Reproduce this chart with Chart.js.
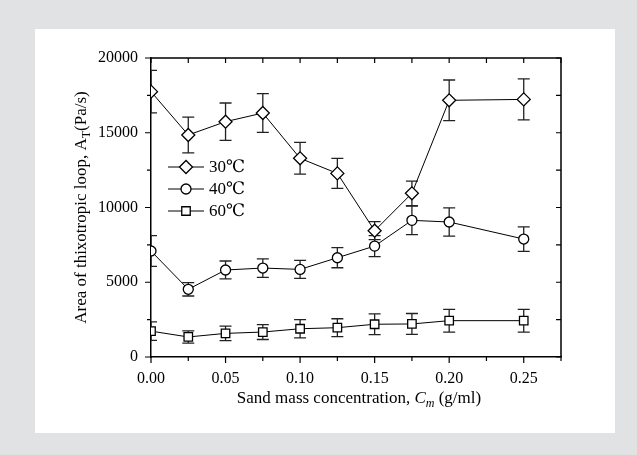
<!DOCTYPE html>
<html>
<head>
<meta charset="utf-8">
<script src="https://cdn.jsdelivr.net/npm/chart.js@4.4.0/dist/chart.umd.min.js"></script>
<style>
html, body { margin: 0; padding: 0; background: #e1e2e4; }
#panel { position: absolute; left: 35px; top: 29px; width: 580px; height: 404px; background: #fff; }
#wrap { position: absolute; left: 0; top: 0; width: 637px; height: 455px; }
</style>
</head>
<body>
<div id="panel"></div>
<div id="wrap"><canvas id="chart" width="637" height="455"></canvas></div>
<script>
// sand mass concentration (g/ml)
const conc = [0, 0.025, 0.05, 0.075, 0.1, 0.125, 0.15, 0.175, 0.2, 0.25];
const labels = ['30℃', '40℃', '60℃'];

// area of thixotropic loop (Pa/s) and error bar half-widths
const area30 = [17750, 14850, 15740, 16320, 13290, 12280, 8450, 10950, 17170, 17230];
const err30 = [1420, 1200, 1250, 1300, 1060, 1000, 600, 820, 1360, 1370];
const area40 = [7090, 4530, 5820, 5950, 5860, 6640, 7420, 9140, 9030, 7890];
const err40 = [1030, 450, 600, 620, 600, 670, 700, 950, 940, 820];
const area60 = [1730, 1340, 1580, 1670, 1890, 1960, 2190, 2210, 2430, 2430];
const err60 = [620, 410, 490, 500, 610, 600, 700, 700, 760, 760];

const xTicks = [0, 0.025, 0.05, 0.075, 0.1, 0.125, 0.15, 0.175, 0.2, 0.225, 0.25, 0.275];
const yTicks = [0, 2500, 5000, 7500, 10000, 12500, 15000, 17500, 20000];

const serif = "'Liberation Serif', 'DejaVu Serif', serif";
const errs = [err30, err40, err60];

function pts(ys) {
  return conc.map((c, i) => ({ x: c, y: ys[i] }));
}

const errorBars = {
  id: 'errorBars',
  beforeDatasetsDraw(chart) {
    const ctx = chart.ctx, a = chart.chartArea;
    const xs = chart.scales.x, ys = chart.scales.y;
    ctx.save();
    ctx.beginPath();
    ctx.rect(a.left, a.top, a.right - a.left, a.bottom - a.top);
    ctx.clip();
    ctx.strokeStyle = '#222';
    ctx.lineWidth = 1.3;
    chart.data.datasets.forEach((ds, k) => {
      ds.data.forEach((p, i) => {
        const x = xs.getPixelForValue(p.x);
        const t = ys.getPixelForValue(p.y + errs[k][i]);
        const b = ys.getPixelForValue(p.y - errs[k][i]);
        ctx.beginPath();
        ctx.moveTo(x, t); ctx.lineTo(x, b);
        ctx.moveTo(x - 6, t); ctx.lineTo(x + 6, t);
        ctx.moveTo(x - 6, b); ctx.lineTo(x + 6, b);
        ctx.stroke();
      });
    });
    ctx.restore();
  }
};

const frame = {
  id: 'frame',
  afterDraw(chart) {
    const ctx = chart.ctx, a = chart.chartArea;
    const xs = chart.scales.x, ys = chart.scales.y;
    ctx.save();
    ctx.strokeStyle = '#000';
    ctx.lineWidth = 1.5;
    ctx.beginPath();
    ctx.moveTo(a.left, a.top); ctx.lineTo(a.right, a.top); ctx.lineTo(a.right, a.bottom);
    ctx.stroke();
    ctx.lineWidth = 1.2;
    ctx.beginPath();
    xTicks.forEach((v, i) => {
      const x = xs.getPixelForValue(v);
      const len = i % 2 === 0 ? 6 : 4;
      ctx.moveTo(x, a.bottom); ctx.lineTo(x, a.bottom + len);
      ctx.moveTo(x, a.top); ctx.lineTo(x, a.top + 5);
    });
    yTicks.forEach((v, i) => {
      const y = ys.getPixelForValue(v);
      const len = i % 2 === 0 ? 6 : 4;
      ctx.moveTo(a.left, y); ctx.lineTo(a.left - len, y);
      ctx.moveTo(a.right, y); ctx.lineTo(a.right - 5, y);
    });
    ctx.stroke();

    // legend
    const sx = 168, rows = [167, 189, 211];
    chart.data.datasets.forEach((ds, k) => {
      const y = rows[k];
      ctx.strokeStyle = '#000';
      ctx.lineWidth = 1;
      ctx.beginPath();
      ctx.moveTo(sx, y); ctx.lineTo(sx + 36, y);
      ctx.stroke();
      ctx.fillStyle = '#fff';
      ctx.lineWidth = 1.3;
      Chart.helpers.drawPoint(ctx, {
        pointStyle: ds.pointStyle, radius: ds.pointRadius, borderWidth: 1.3, rotation: 0
      }, sx + 18, y);
      ctx.fillStyle = '#000';
      ctx.font = '17px ' + serif;
      ctx.textBaseline = 'middle';
      ctx.textAlign = 'left';
      ctx.fillText(ds.label, sx + 41, y + 1);
    });

    // x title
    ctx.fillStyle = '#000';
    ctx.textBaseline = 'alphabetic';
    ctx.textAlign = 'left';
    const f = '17px ' + serif, fi = 'italic 17px ' + serif, fs = 'italic 12px ' + serif;
    const parts = [['Sand mass concentration, ', f, 0], ['C', fi, 0], ['m', fs, 4], [' (g/ml)', f, 0]];
    let w = 0;
    parts.forEach(p => { ctx.font = p[1]; w += ctx.measureText(p[0]).width; });
    let x = (a.left + a.right) / 2 - w / 2 + 3;
    parts.forEach(p => { ctx.font = p[1]; ctx.fillText(p[0], x, 403 + p[2]); x += ctx.measureText(p[0]).width; });

    // y title
    ctx.save();
    ctx.translate(86, (a.top + a.bottom) / 2);
    ctx.rotate(-Math.PI / 2);
    const ss = '12px ' + serif;
    const yp = [['Area of thixotropic loop, A', f, 0], ['T', ss, 4], ['(Pa/s)', f, 0]];
    w = 0;
    yp.forEach(p => { ctx.font = p[1]; w += ctx.measureText(p[0]).width; });
    x = -w / 2;
    yp.forEach(p => { ctx.font = p[1]; ctx.fillText(p[0], x, p[2]); x += ctx.measureText(p[0]).width; });
    ctx.restore();
    ctx.restore();
  }
};

const common = { borderColor: '#000', borderWidth: 1, backgroundColor: '#fff', pointBackgroundColor: '#fff', pointBorderColor: '#000', pointBorderWidth: 1.3, tension: 0 };

new Chart(document.getElementById('chart'), {
  type: 'line',
  data: {
    datasets: [
      { ...common, label: labels[0], data: pts(area30), pointStyle: 'rectRot', pointRadius: 6.5 },
      { ...common, label: labels[1], data: pts(area40), pointStyle: 'circle', pointRadius: 5 },
      { ...common, label: labels[2], data: pts(area60), pointStyle: 'rect', pointRadius: 6 }
    ]
  },
  options: {
    responsive: false,
    animation: false,
    layout: { padding: { left: 51, top: 58, right: 76, bottom: 58 } },
    plugins: { legend: { display: false }, tooltip: { enabled: false } },
    scales: {
      x: {
        type: 'linear', min: 0, max: 0.275,
        afterFit(s) { s.height = 40; },
        grid: { display: false },
        border: { color: '#000', width: 1.5 },
        ticks: { stepSize: 0.05, includeBounds: false, padding: 4, color: '#000', font: { family: serif, size: 16 }, maxRotation: 0,
          callback: v => v.toFixed(2) }
      },
      y: {
        min: 0, max: 20000,
        afterFit(s) { s.width = 100; },
        grid: { display: false },
        border: { color: '#000', width: 1.5 },
        ticks: { stepSize: 5000, padding: 5, color: '#000', font: { family: serif, size: 16 },
          callback: v => String(v) }
      }
    }
  },
  plugins: [errorBars, frame]
});
</script>
</body>
</html>
